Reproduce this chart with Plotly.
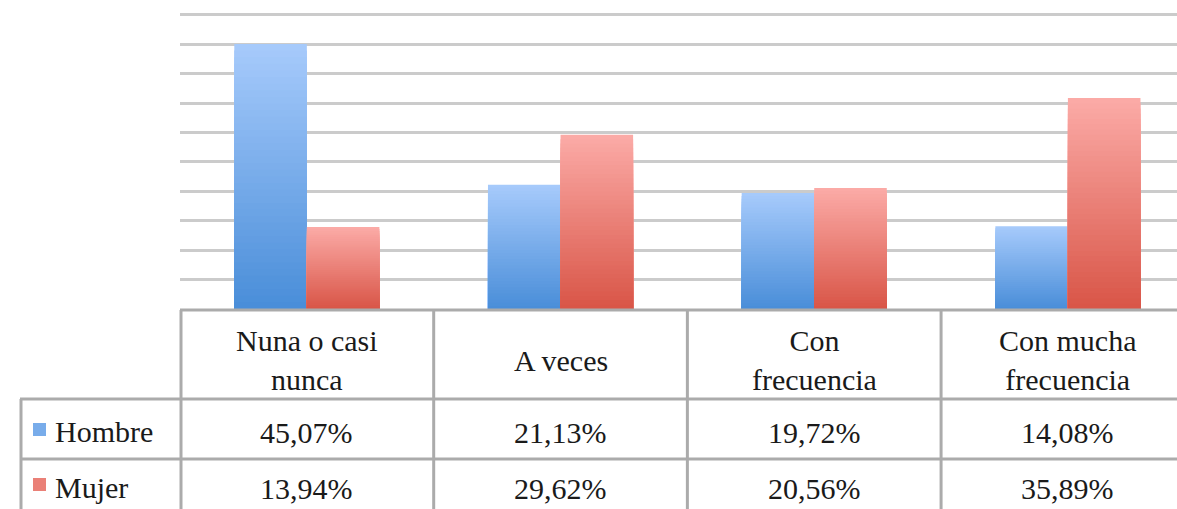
import plotly.graph_objects as go

categories = ["Nuna o casi nunca", "A veces", "Con frecuencia", "Con mucha frecuencia"]
header_labels = ["Nuna o casi<br>nunca", "A veces", "Con<br>frecuencia", "Con mucha<br>frecuencia"]
series_names = ["Hombre", "Mujer"]
hombre = [45.07, 21.13, 19.72, 14.08]
mujer = [13.94, 29.62, 20.56, 35.89]
value_labels_h = ["45,07%", "21,13%", "19,72%", "14,08%"]
value_labels_m = ["13,94%", "29,62%", "20,56%", "35,89%"]

W, H = 1177, 509
BASE_S = 309          # screen y of baseline
LEFT_S = 180          # screen x of plot left edge
YMAX = 50.5
PH = round(294 * YMAX / 50)
M_L = LEFT_S
M_R = 0
M_B = H - BASE_S
M_T = H - M_B - PH
PW = W - M_L - M_R

def py(ys):
    return (BASE_S - ys) / PH

def px(xs):
    return (xs - LEFT_S) / PW

def mix(c1, c2, t):
    return "rgb(%d,%d,%d)" % tuple(round(a + (b - a) * t) for a, b in zip(c1, c2))

blue_top, blue_bot = (166, 202, 251), (74, 142, 217)
red_top, red_bot = (251, 170, 166), (217, 86, 72)

fig = go.Figure()
N = 40
bw = 0.286
for vals, off, top, bot in [(hombre, -bw, blue_top, blue_bot), (mujer, 0.0, red_top, red_bot)]:
    for k in range(N):
        frac = (N - k) / N
        fig.add_trace(go.Bar(
            x=list(range(len(categories))),
            y=[v * frac for v in vals],
            width=bw, offset=off,
            marker=dict(color=mix(top, bot, k / (N - 1)), line=dict(width=0)),
            showlegend=False, hoverinfo="skip",
        ))

line_col = "#ababab"
lw = 3
shapes = []
shapes.append(dict(type="line", xref="paper", yref="paper", x0=0, x1=1.01, y0=py(310), y1=py(310),
                   line=dict(color=line_col, width=lw)))
for yy in [399, 459]:
    shapes.append(dict(type="line", xref="paper", yref="paper", x0=px(20), x1=1.01, y0=py(yy), y1=py(yy),
                       line=dict(color=line_col, width=lw)))
shapes.append(dict(type="line", xref="paper", yref="paper", x0=px(21), x1=px(21), y0=py(399), y1=py(515),
                   line=dict(color=line_col, width=lw)))
shapes.append(dict(type="line", xref="paper", yref="paper", x0=px(181), x1=px(181), y0=py(310), y1=py(515),
                   line=dict(color=line_col, width=lw)))
for i in range(1, len(categories)):
    shapes.append(dict(type="line", xref="x", yref="paper", x0=i - 0.5, x1=i - 0.5, y0=py(310), y1=py(515),
                       line=dict(color=line_col, width=lw)))
for (y0, y1), top, bot in [((423, 436), blue_top, blue_bot), ((478, 491), red_top, red_bot)]:
    shapes.append(dict(type="rect", xref="paper", yref="paper", x0=px(33), x1=px(46), y0=py(y1), y1=py(y0),
                       fillcolor=mix(top, bot, 0.5), line=dict(width=0)))

font = dict(family="Liberation Serif, Times New Roman, serif", size=30, color="#1a1a1a")
ann = []
for i, lab in enumerate(header_labels):
    ann.append(dict(x=i, y=py(360), xref="x", yref="paper", text=lab, showarrow=False,
                    xanchor="center", yanchor="middle", font=font))
    ann.append(dict(x=i, y=py(432), xref="x", yref="paper", text=value_labels_h[i], showarrow=False,
                    xanchor="center", yanchor="middle", font=font))
    ann.append(dict(x=i, y=py(488), xref="x", yref="paper", text=value_labels_m[i], showarrow=False,
                    xanchor="center", yanchor="middle", font=font))
for name, yy in zip(series_names, [431, 487]):
    ann.append(dict(x=px(53), y=py(yy), xref="paper", yref="paper", text=name, showarrow=False,
                    xanchor="left", yanchor="middle", font=font))

fig.update_layout(
    width=W, height=H,
    margin=dict(l=M_L, r=M_R, t=M_T, b=M_B, pad=0),
    paper_bgcolor="white", plot_bgcolor="white",
    barmode="overlay",
    xaxis=dict(range=[-0.5, 3.43], showticklabels=False, showgrid=False, zeroline=False, showline=False,
               fixedrange=True),
    yaxis=dict(range=[0, YMAX], dtick=5, showticklabels=False, gridcolor="#cbcbcb", gridwidth=3,
               zeroline=False, showline=False, fixedrange=True),
    shapes=shapes, annotations=ann,
    showlegend=False,
)

fig.write_html("out.html", config={"displayModeBar": False, "staticPlot": True},
               post_script="document.body.style.margin='0';document.body.style.overflow='hidden';")
